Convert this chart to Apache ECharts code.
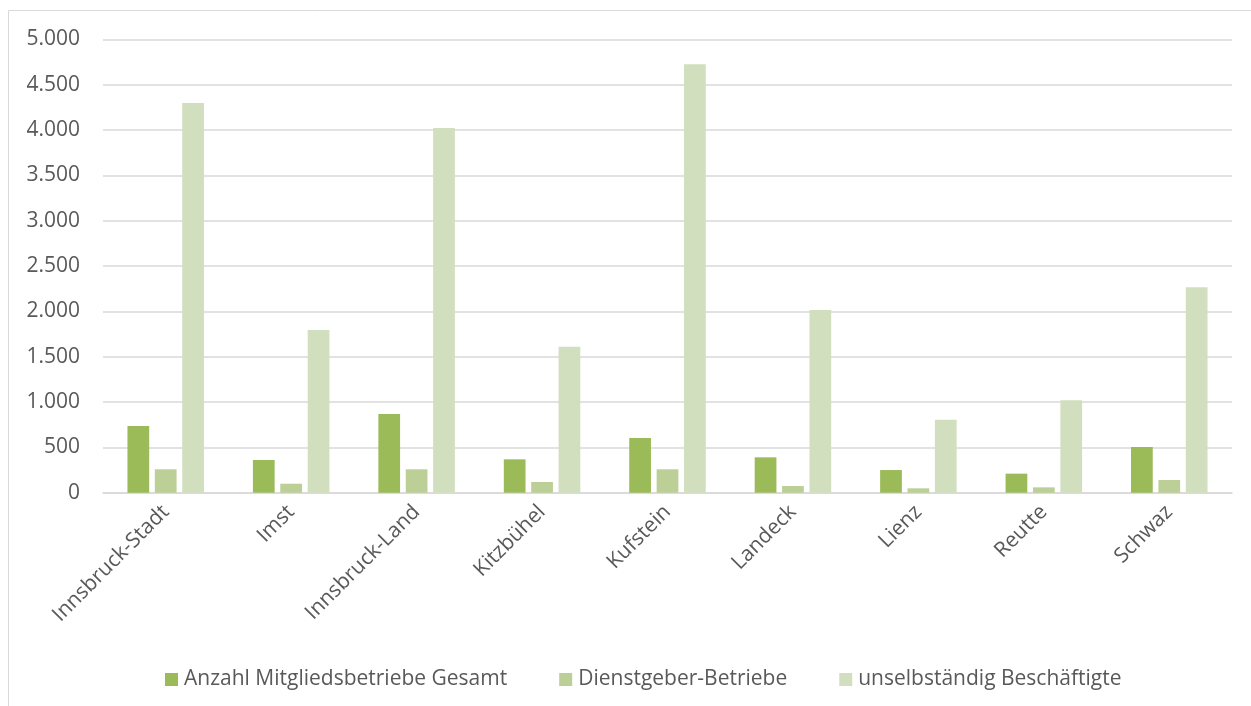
<!DOCTYPE html>
<html>
<head>
<meta charset="utf-8">
<script src="https://cdn.jsdelivr.net/npm/echarts@6/dist/echarts.min.js"></script>
<style>
html,body{margin:0;padding:0;background:#fff;}
#c{width:1251px;height:706px;}
</style>
</head>
<body>
<div id="c"></div>
<script>
const categories = ['Innsbruck-Stadt','Imst','Innsbruck-Land','Kitzbühel','Kufstein','Landeck','Lienz','Reutte','Schwaz'];
const seriesNames = ['Anzahl Mitgliedsbetriebe Gesamt','Dienstgeber-Betriebe','unselbständig Beschäftigte'];
const mitgliedsbetriebe = [736, 361, 868, 368, 603, 390, 250, 210, 504];
const dienstgeber = [258, 99, 258, 118, 258, 74, 48, 59, 140];
const beschaeftigte = [4298, 1794, 4022, 1610, 4725, 2015, 805, 1019, 2265];
const colors = ['#9BBB59','#BBCF96','#D1DFBE'];

function fmt(v){
  return String(v).replace(/\B(?=(\d{3})+(?!\d))/g,'.');
}

const chart = echarts.init(document.getElementById('c'), null, {renderer:'canvas'});
const font = "'Open Sans', sans-serif";
const values = [mitgliedsbetriebe, dienstgeber, beschaeftigte];
chart.setOption({
  animation:false,
  backgroundColor:'#fff',
  graphic:[{
    type:'rect', silent:true,
    shape:{x:8.5,y:10.5,width:1400,height:900},
    style:{fill:'none',stroke:'#d9d9d9',lineWidth:1}
  }],
  grid:{left:103,right:19,top:39.4,bottom:213.3,containLabel:false},
  legend:{
    bottom:11,left:160,
    itemWidth:13,itemHeight:13,itemGap:52,
    icon:'rect',
    textStyle:{color:'#595959',fontSize:21,fontFamily:font,padding:[0,0,0,1]},
    data:seriesNames
  },
  xAxis:{
    type:'category',data:categories,
    axisLine:{lineStyle:{color:'#d9d9d9',width:1.5}},
    axisTick:{show:false},
    axisLabel:{rotate:45,color:'#595959',fontSize:21,fontFamily:font,margin:16,interval:0}
  },
  yAxis:{
    type:'value',min:0,max:5000,interval:500,
    axisLine:{show:false},axisTick:{show:false},
    splitLine:{lineStyle:{color:'#d9d9d9',width:1.5}},
    axisLabel:{color:'#595959',fontSize:21,fontFamily:font,margin:23,formatter:fmt}
  },
  series:seriesNames.map((n,i)=>({
    name:n,type:'bar',data:values[i],
    barGap:'26%',barCategoryGap:'39%',
    itemStyle:{color:colors[i]}
  }))
});
</script>
</body>
</html>
